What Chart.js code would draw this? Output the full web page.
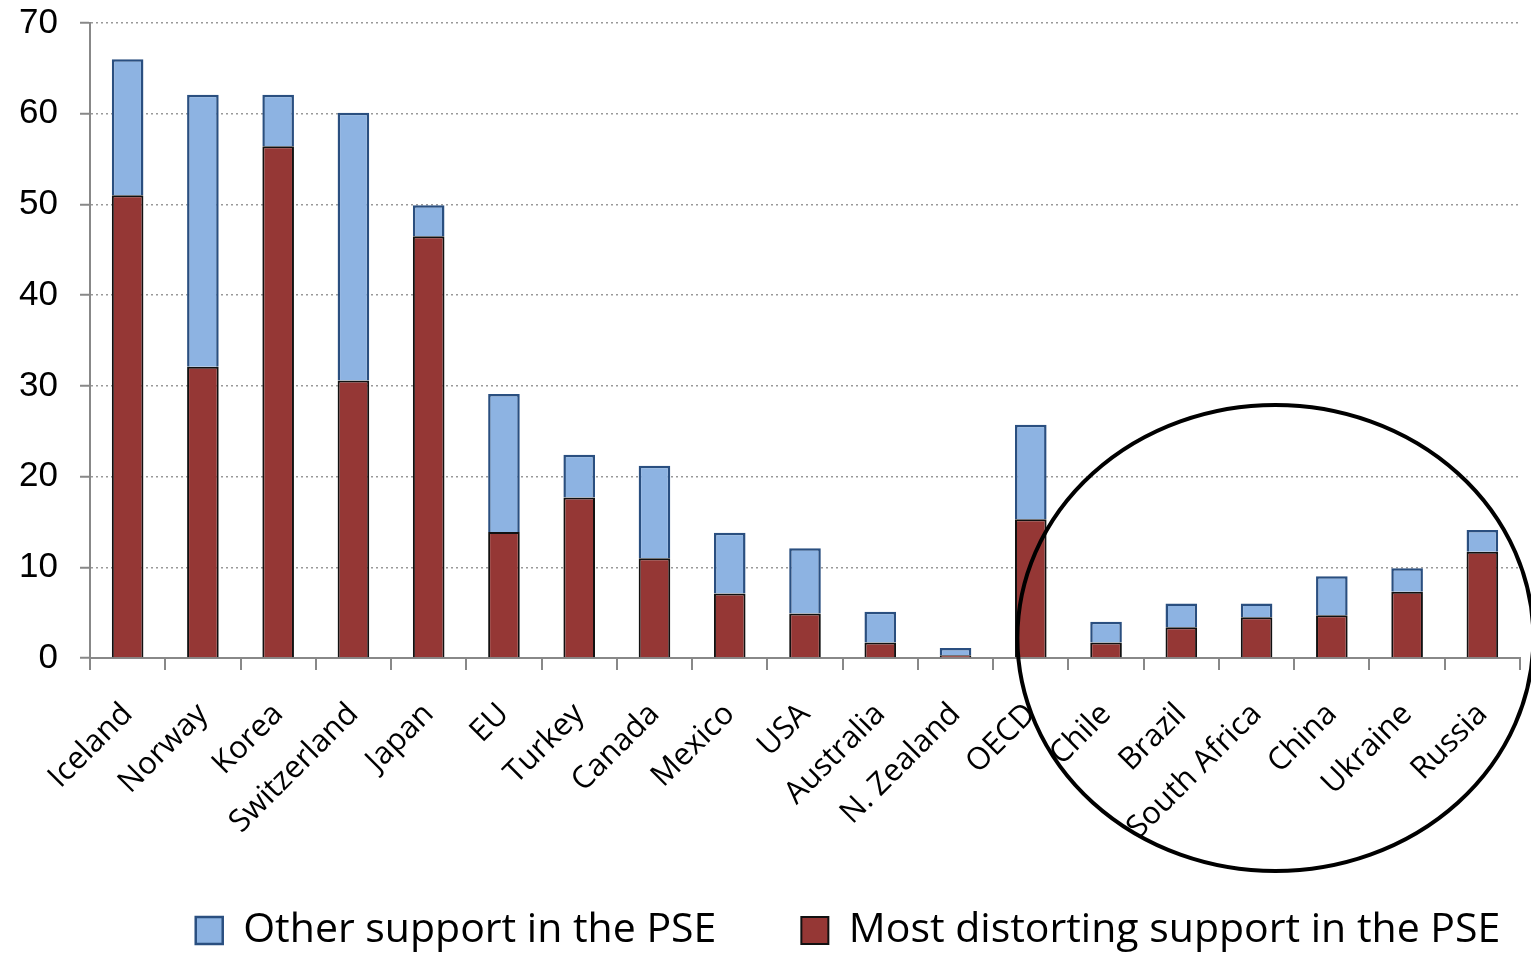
<!DOCTYPE html>
<html>
<head>
<meta charset="utf-8">
<script src="https://cdn.jsdelivr.net/npm/chart.js@4"></script>
<style>
  html, body { margin: 0; padding: 0; background: #fff; }
  #wrap { width: 1531px; height: 954px; position: relative; }
</style>
</head>
<body>
<div id="wrap"><canvas id="grafico"></canvas></div>
<script>
// datos (% del valor bruto de la produccion)
const paises = ["Iceland", "Norway", "Korea", "Switzerland", "Japan", "EU", "Turkey", "Canada",
  "Mexico", "USA", "Australia", "N. Zealand", "OECD", "Chile", "Brazil", "South Africa",
  "China", "Ukraine", "Russia"];
const masDistorsionante = [51.0, 32.1, 56.4, 30.6, 46.5, 13.9, 17.7, 11.0, 7.1, 4.9, 1.7, 0.3,
  15.3, 1.7, 3.4, 4.5, 4.7, 7.3, 11.7];
const otroApoyo = [15.0, 30.0, 5.7, 29.5, 3.4, 15.2, 4.7, 10.2, 6.7, 7.2, 3.4, 0.8,
  10.4, 2.3, 2.6, 1.5, 4.3, 2.6, 2.4];
const ticksY = [0, 10, 20, 30, 40, 50, 60, 70];

// circulo alrededor de las economias emergentes
const elipse = {
  id: "elipse",
  afterDraw(chart) {
    const x = chart.scales.x, y = chart.scales.y;
    const p15 = x.getPixelForValue(15), p16 = x.getPixelForValue(16);
    const cx = p15 + (p16 - p15) * 0.25;
    const cy = y.getPixelForValue(2.2);
    const ctx = chart.ctx;
    ctx.save();
    ctx.beginPath();
    ctx.ellipse(cx, cy, 258, 233, 0, 0, Math.PI * 2);
    ctx.lineWidth = 4;
    ctx.strokeStyle = "#000";
    ctx.stroke();
    ctx.restore();
  }
};

// mover la leyenda a su sitio (abajo, algo a la derecha)
const ajusteLeyenda = {
  id: "ajusteLeyenda",
  afterLayout(chart) {
    const l = chart.legend;
    l.left += 88;
    l.right += 88;
    l.top = 825;
    l.bottom = 954;
  }
};

new Chart(document.getElementById("grafico"), {
  type: "bar",
  data: {
    labels: paises,
    datasets: [
      {
        label: "Most distorting support in the PSE",
        data: masDistorsionante,
        backgroundColor: "#953735",
        borderColor: "#111",
        borderWidth: 2
      },
      {
        label: "Other support in the PSE",
        data: otroApoyo,
        backgroundColor: "#8db3e2",
        borderColor: "#2a4f80",
        borderWidth: 2.5
      }
    ]
  },
  options: {
    responsive: true,
    maintainAspectRatio: false,
    animation: false,
    datasets: { bar: { barPercentage: 0.42, categoryPercentage: 1 } },
    layout: { padding: { top: 23, right: 11, left: 0, bottom: 0 } },
    plugins: {
      legend: {
        position: "bottom",
        reverse: true,
        maxHeight: 60,
        labels: {
          color: "#000",
          font: { family: "Open Sans", size: 41 },
          boxWidth: 27,
          boxHeight: 27,
          padding: 85
        }
      },
      tooltip: { enabled: false }
    },
    scales: {
      x: {
        stacked: true,
        grid: { offset: true, drawOnChartArea: false, color: "#888", lineWidth: 2, tickLength: 12 },
        border: { color: "#888", width: 2 },
        ticks: {
          color: "#000",
          font: { family: "Open Sans", size: 31 },
          maxRotation: 45,
          minRotation: 45,
          autoSkip: false,
          padding: 26
        },
        afterFit(scale) {
          scale.height = 236;
          scale.paddingRight = 0;
        }
      },
      y: {
        stacked: true,
        min: 0,
        max: 70,
        afterBuildTicks(scale) { scale.ticks = ticksY.map(v => ({ value: v })); },
        grid: { color: "#999", lineWidth: 1.5, tickLength: 10, tickColor: "#888", tickWidth: 2 },
        border: { color: "#888", width: 2, dash: [2, 3] },
        ticks: {
          color: "#000",
          font: { family: "Liberation Sans", size: 35 },
          padding: 22
        },
        afterFit(scale) {
          scale.width = 90;
          scale.paddingTop = 0;
          scale.paddingBottom = 0;
        }
      }
    }
  },
  plugins: [elipse, ajusteLeyenda]
});
</script>
</body>
</html>
